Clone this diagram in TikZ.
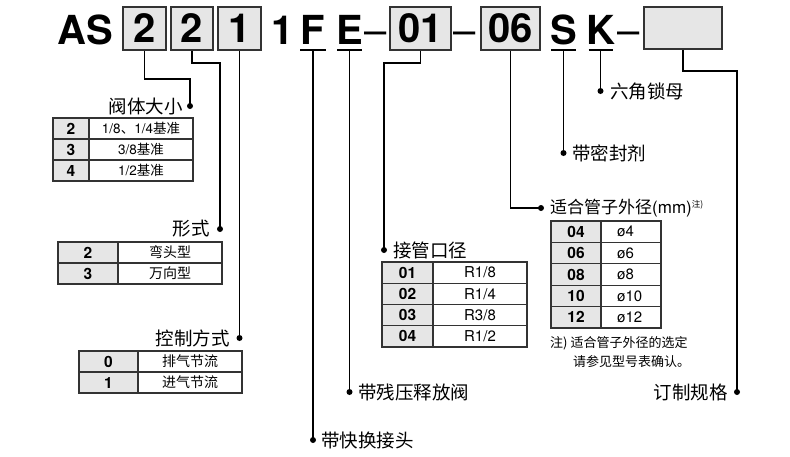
\documentclass[tikz,border=0pt]{standalone}
\usepackage{fontspec}
\setmainfont{TeX Gyre Heros}
\newfontfamily\cjk{Noto Sans CJK SC}
\newfontfamily\heros{TeX Gyre Heros}
\definecolor{boxfill}{HTML}{E6E6E6}
\definecolor{edge}{HTML}{333333}
\tikzset{
  bigl/.style={font=\bfseries\fontsize{40}{40}\selectfont, inner sep=0pt, minimum height=40pt},
  dashl/.style={font=\fontsize{40}{40}\selectfont, inner sep=0pt, anchor=base},
  codebox/.style={draw=edge, line width=1.6pt, fill=boxfill, inner sep=0pt, minimum height=43pt,
    font=\bfseries\fontsize{40}{40}\selectfont},
  conn/.style={line width=1.8pt, black},
  uline/.style={line width=1.5pt, black},
  dot/.style={circle, fill=black, inner sep=0pt, minimum size=6pt},
  lab/.style={font=\cjk\fontsize{18.5}{20}\selectfont, inner sep=0pt},
  codetext/.style={font=\bfseries\fontsize{15.5}{16}\selectfont, inner sep=0pt},
  valtext/.style={font=\fontsize{13.5}{14}\selectfont, inner sep=0pt},
  valbig/.style={font=\fontsize{15}{16}\selectfont},
  notetext/.style={font=\cjk\fontsize{13}{14}\selectfont, inner sep=0pt, anchor=west},
  tabline/.style={draw=edge, line width=1.2pt}
}
\newcommand{\tabrow}[9][]{%
  \path[tabline, fill=boxfill] (#3,#6) rectangle (#4,#7);
  \path[tabline] (#4,#6) rectangle (#5,#7);
  \node[codetext] (#2c) at ({(#3+#4)/2},{(#6+#7)/2}) {#8};
  \node[valtext, #1] (#2v) at ({(#4+#5)/2},{(#6+#7)/2}) {#9};
}
\newcommand{\tabrowL}[8]{%
  \path[tabline, fill=boxfill] (#2,#5) rectangle (#3,#6);
  \path[tabline] (#3,#5) rectangle (#4,#6);
  \node[codetext] (#1c) at ({(#2+#3)/2},{(#5+#6)/2}) {#7};
  \node[valtext, valbig, anchor=west] (#1v) at ({#3+16},{(#5+#6)/2}) {#8};
}
\begin{document}
\begin{tikzpicture}[x=1pt,y=-1pt]
\useasboundingbox (0,0) rectangle (790,456);

% ---- top code row ----
\node[bigl] (AS) at (85,30) {AS};
\node[codebox, minimum width=43pt] (b1) at (144.5,28.5) {2};
\node[codebox, minimum width=42pt] (b2) at (192,28.5) {2};
\node[codebox, minimum width=43pt] (b3) at (239.5,28.5) {1};
\node[bigl] (one) at (282.5,30) {1};
\node[bigl] (F) at (313,30) {F};
\node[bigl] (E) at (349.5,30) {E};
\node[dashl] (m1) at (376,44.4) {–};
\node[codebox, minimum width=61pt] (b01) at (420.5,28.5) {01};
\node[dashl] (m2) at (465,44.4) {–};
\node[codebox, minimum width=59pt] (b06) at (510.5,28.5) {06};
\node[bigl] (S) at (563.5,30) {S};
\node[bigl] (K) at (600.5,30) {K};
\node[dashl] (m3) at (628.5,44.4) {–};
\node[codebox, minimum width=78pt, minimum height=42pt] (bx) at (683,28) {};

% underlines
\draw[uline] ([xshift=-13pt]F.south) -- ([xshift=13pt]F.south);
\draw[uline] ([xshift=-12.5pt]E.south) -- ([xshift=12.5pt]E.south);
\draw[uline] ([xshift=-12.5pt]S.south) -- ([xshift=12.5pt]S.south);
\draw[uline] ([xshift=-12pt]K.south) -- ([xshift=12pt]K.south);

% ---- dots ----
\node[dot] (d1) at (190,106) {};
\node[dot] (d2) at (220,229) {};
\node[dot] (d3) at (239.5,338) {};
\node[dot] (d4) at (313,440) {};
\node[dot] (d5) at (349.5,392) {};
\node[dot] (d6) at (384,250) {};
\node[dot] (d7) at (541,208) {};
\node[dot] (d8) at (563.5,153) {};
\node[dot] (d9) at (600.5,91) {};
\node[dot] (d10) at (737,392) {};

% ---- connectors ----
\draw[conn] (b1.south) -- ++(0,28) -| (d1.center);
\draw[conn] (b2.south) -- ++(0,12) -| (d2.center);
\draw[conn] (b3.south) -- (d3.center);
\draw[conn] (F.south) -- (d4.center);
\draw[conn] (E.south) -- (d5.center);
\draw[conn] (b01.south) -- ++(0,12) -| (d6.center);
\draw[conn] (b06.south) |- (d7.center);
\draw[conn] (S.south) -- (d8.center);
\draw[conn] (K.south) -- (d9.center);
\draw[conn] (bx.south) -- ++(0,21) -| (d10.center);

% ---- labels ----
\node[lab, anchor=east] (l1) at (183,106) {阀体大小};
\node[lab, anchor=east] (l2) at (210,229) {形式};
\node[lab, anchor=east] (l3) at (230,338) {控制方式};
\node[lab, anchor=west] (l4) at (321,440) {带快换接头};
\node[lab, anchor=west] (l5) at (358,392) {带残压释放阀};
\node[lab, anchor=west] (l6) at (393,250) {接管口径};
\node[lab, anchor=west, font=\cjk\fontsize{17}{18}\selectfont] (l7) at (550,208)
  {适合管子外径{\heros (mm)}\raisebox{6pt}{\fontsize{8.5}{9}\selectfont 注)}};
\node[lab, anchor=west] (l8) at (572,153) {带密封剂};
\node[lab, anchor=west] (l9) at (610,91) {六角锁母};
\node[lab, anchor=east] (l10) at (728,392) {订制规格};

% ---- tables ----
\tabrow{ta}{53}{89}{193}{118}{139}{2}{1/8{\cjk 、}1/4{\cjk 基准}}
\tabrow{tb}{53}{89}{193}{139}{160}{3}{3/8{\cjk 基准}}
\tabrow{tc}{53}{89}{193}{160}{181}{4}{1/2{\cjk 基准}}

\tabrow{td}{58}{118}{222}{242}{263}{2}{{\cjk\fontsize{14}{15}\selectfont 弯头型}}
\tabrow{te}{58}{118}{222}{263}{284}{3}{{\cjk\fontsize{14}{15}\selectfont 万向型}}

\tabrow{tf}{79}{138}{242}{351}{372}{0}{{\cjk\fontsize{14}{15}\selectfont 排气节流}}
\tabrow{tg}{79}{138}{242}{372}{393}{1}{{\cjk\fontsize{14}{15}\selectfont 进气节流}}

\tabrow[valbig]{th}{382}{433}{527}{262}{283.25}{01}{R1/8}
\tabrow[valbig]{ti}{382}{433}{527}{283.25}{304.5}{02}{R1/4}
\tabrow[valbig]{tj}{382}{433}{527}{304.5}{325.75}{03}{R3/8}
\tabrow[valbig]{tk}{382}{433}{527}{325.75}{347}{04}{R1/2}

\tabrowL{tl}{551}{601}{661}{221}{242.4}{04}{ø4}
\tabrowL{tm}{551}{601}{661}{242.4}{263.8}{06}{ø6}
\tabrowL{tn}{551}{601}{661}{263.8}{285.2}{08}{ø8}
\tabrowL{to}{551}{601}{661}{285.2}{306.6}{10}{ø10}
\tabrowL{tp}{551}{601}{661}{306.6}{328}{12}{ø12}

% ---- note ----
\node[notetext] (n1) at (550,343) {注) 适合管子外径的选定};
\node[notetext] (n2) at (573,362) {请参见型号表确认。};
\end{tikzpicture}
\end{document}
